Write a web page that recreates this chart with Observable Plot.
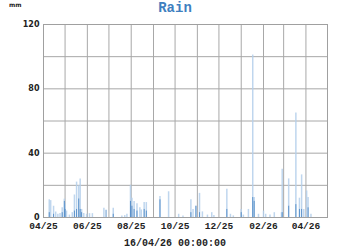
<!DOCTYPE html>
<html>
<head>
<meta charset="utf-8">
<script src="https://cdn.jsdelivr.net/npm/d3@7"></script>
<script src="https://cdn.jsdelivr.net/npm/@observablehq/plot@0.6"></script>
<style>
  html, body { margin: 0; padding: 0; background: #fff; }
  #wrap { position: relative; width: 350px; height: 250px; overflow: hidden; }
  #wrap svg { position: absolute; left: 0; top: 0; }
  .title { position: absolute; left: 0; width: 350px; top: 1px; line-height: 14px; text-align: center;
           font: bold 14px/14px "Liberation Mono", monospace; color: #3f7fbf; }
  .unit { position: absolute; left: 9px; top: 1px; font: bold 6px/7px "DejaVu Sans", sans-serif; color: #222; }
  .stamp { position: absolute; left: 0; width: 350px; top: 238px; text-align: center;
           font: bold 10px/12px "Liberation Mono", monospace; color: #222; }
</style>
</head>
<body>
<div id="wrap">
  <div class="title">Rain</div>
  <div class="unit">mm</div>
  <div class="stamp">16/04/26 00:00:00</div>
</div>
<script>
// Light (total) bars: dates and values (mm)
const lightDates = ["2025-04-09","2025-04-11","2025-04-15","2025-04-18","2025-04-21","2025-04-24","2025-04-27","2025-04-30",
  "2025-05-01","2025-05-03","2025-05-07","2025-05-11","2025-05-14","2025-05-17","2025-05-20","2025-05-22","2025-05-24",
  "2025-05-27","2025-05-31","2025-06-04","2025-06-08","2025-06-24","2025-07-07","2025-07-19","2025-07-23","2025-07-26",
  "2025-07-31","2025-08-02","2025-08-05","2025-08-09","2025-08-13","2025-08-15","2025-08-19","2025-08-22","2025-09-10",
  "2025-09-22","2025-10-06","2025-10-12","2025-10-23","2025-10-26","2025-10-30","2025-11-04","2025-11-08","2025-11-15",
  "2025-11-21","2025-11-24","2025-12-12","2025-12-17","2025-12-21","2026-01-01","2026-01-04","2026-01-11","2026-01-17",
  "2026-01-19","2026-01-25","2026-02-01","2026-02-04","2026-02-10","2026-02-16","2026-02-26","2026-02-27","2026-03-08",
  "2026-03-18","2026-03-23","2026-03-26","2026-03-29","2026-04-02","2026-04-04","2026-04-08"];
const lightValues = [11,10.5,7,3.4,2,2.5,6,11.4,
  8.4,4,1.5,3,14,22,19.7,24,5,
  2.5,2,2.4,2.4,5.7,5.7,1,1.2,2,
  20,12,10,8.5,6,4.7,9.3,9.3,13,
  16,2,1,11,5,7,15,3.5,1.5,
  3,1.2,17.6,2,1,5,1.5,5,101,
  12.4,2,4,2,1.5,3,3,30,24,
  65,12,26.5,5,16.5,12.4,2];

// Dark (overlapping) bars: dates and values (mm)
const darkDates = ["2025-04-09","2025-04-15","2025-04-27","2025-04-30","2025-05-01","2025-05-14","2025-05-17","2025-05-20",
  "2025-05-22","2025-05-24","2025-06-27","2025-07-07","2025-07-31","2025-08-02","2025-08-05","2025-08-09","2025-08-19",
  "2025-08-22","2025-09-10","2025-10-23","2025-10-30","2025-11-04","2025-12-12","2026-01-01","2026-01-17","2026-01-19",
  "2026-02-27","2026-03-08","2026-03-18","2026-03-23","2026-03-26","2026-04-04"];
const darkValues = [3,2,3,10,5,4,5,11.5,
  5,3,4.5,2,10,7,5,4,5,
  4,11,3,7,3,5,3,12.4,10,
  3,7,8,5,5,6];

// Axis ticks
const yTicks = [0, 40, 80, 120];
const yGrid = [0, 20, 40, 60, 80, 100, 120];
const xTickLabels = ["2025-04-01","2025-06-01","2025-08-01","2025-10-01","2025-12-01","2026-02-01","2026-04-01"];
const xGridMonths = ["2025-04-01","2025-05-01","2025-06-01","2025-07-01","2025-08-01","2025-09-01","2025-10-01",
  "2025-11-01","2025-12-01","2026-01-01","2026-02-01","2026-03-01","2026-04-01","2026-05-01"];
const xDomain = ["2025-04-01", "2026-05-01"];

const parse = d3.utcParse("%Y-%m-%d");
const light = lightDates.map((d, i) => ({date: parse(d), value: lightValues[i]}));
const dark = darkDates.map((d, i) => ({date: parse(d), value: darkValues[i]}));

const chart = Plot.plot({
  width: 350,
  height: 250,
  marginLeft: 43,
  marginRight: 23,
  marginTop: 24,
  marginBottom: 33,
  style: {background: "transparent"},
  x: {type: "utc", domain: xDomain.map(parse), label: null},
  y: {domain: [0, 120], label: null},
  marks: [
    Plot.gridY({ticks: yGrid, stroke: "#a8a8a8", strokeOpacity: 1, strokeWidth: 1}),
    Plot.gridX({ticks: xGridMonths.map(parse), stroke: "#a8a8a8", strokeOpacity: 1, strokeWidth: 1}),
    Plot.ruleX(light, {x: "date", y: "value", stroke: "#b4cfeb", strokeWidth: 1.5, strokeOpacity: 0.85}),
    Plot.ruleX(dark, {x: "date", y: "value", stroke: "#4a86c4", strokeWidth: 1, strokeOpacity: 0.85}),
    Plot.frame({stroke: "#a0a0a0"}),
    Plot.axisY({ticks: yTicks, tickSize: 0, tickPadding: 4, label: null,
      fontFamily: "DejaVu Sans", fontSize: 8, fontWeight: "bold", fill: "#222"}),
    Plot.axisX({ticks: xTickLabels.map(parse), tickFormat: d3.utcFormat("%m/%y"), tickSize: 0, tickPadding: 5, label: null,
      fontFamily: "Liberation Mono", fontSize: 9.5, fontWeight: "bold", fill: "#222"})
  ]
});
document.getElementById("wrap").prepend(chart);
</script>
</body>
</html>
